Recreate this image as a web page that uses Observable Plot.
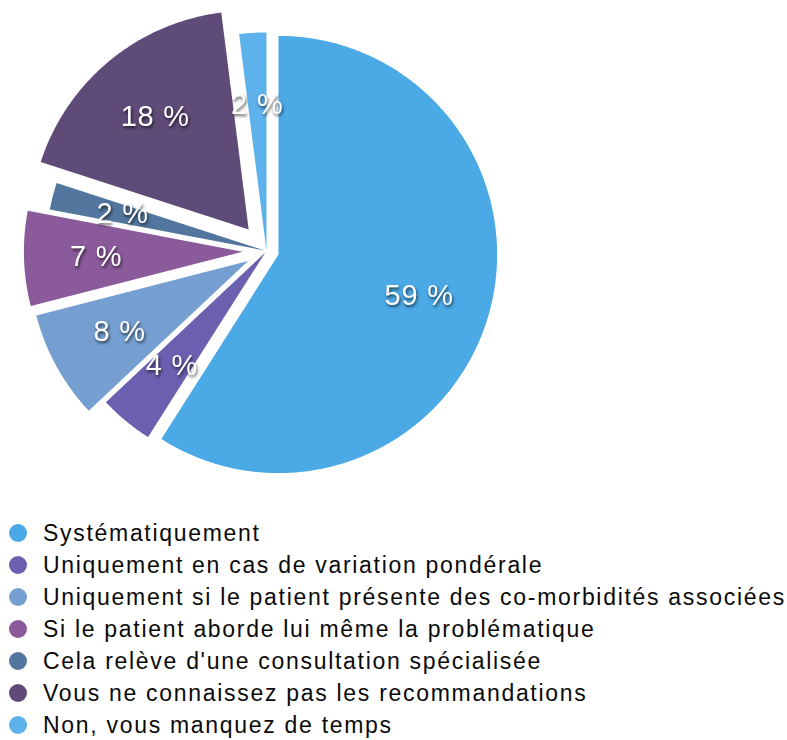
<!DOCTYPE html>
<html>
<head>
<meta charset="utf-8">
<script src="https://cdn.jsdelivr.net/npm/d3@7"></script>
<script src="https://cdn.jsdelivr.net/npm/@observablehq/plot@0.6"></script>
<style>
  html, body { margin: 0; padding: 0; background: #fff; }
  body { width: 787px; font-family: "Liberation Sans", Arial, Helvetica, sans-serif; }
  #chart svg { display: block; }
  #chart svg g[aria-label="text"] { filter: drop-shadow(1px 2px 1.5px rgba(0,0,0,0.65)); letter-spacing: 0.8px; }
  .legend { margin: 0; padding: 0; }
  .row { height: 32px; display: flex; align-items: center; font-size: 23px; letter-spacing: 1.7px; color: #0a0a0a; white-space: nowrap; }
  .dot { width: 18px; height: 18px; border-radius: 50%; margin-left: 8.5px; margin-right: 16.5px; flex: none; }
</style>
</head>
<body>
<div id="chart"></div>
<div id="legend" class="legend"></div>
<script>
const categories = [
  "Systématiquement",
  "Uniquement en cas de variation pondérale",
  "Uniquement si le patient présente des co-morbidités associées",
  "Si le patient aborde lui même la problématique",
  "Cela relève d'une consultation spécialisée",
  "Vous ne connaissez pas les recommandations",
  "Non, vous manquez de temps"
];
const values = [59, 4, 8, 7, 2, 18, 2];
const colors = ["#4BA9E6", "#6B5FAF", "#759FD1", "#8A5A9B", "#52769D", "#5E4B77", "#5EB2EB"];

// layout (pixels)
const W = 787, H = 517;
const cx = 266, cy = 250.5, R = 218.6;
const explodePx = [12.5, 2, 21, 24, 2, 28, 0];
const labelRadius = 0.67;

const arcs = d3.pie().sort(null).value(d => d).startAngle(0).endAngle(2 * Math.PI)(values);

const slicePoints = [];
const labels = [];
arcs.forEach((a, i) => {
  const mid = (a.startAngle + a.endAngle) / 2;
  const o = explodePx[i] / R;
  const ox = o * Math.sin(mid), oy = o * Math.cos(mid);
  const cat = categories[i];
  slicePoints.push({cat, x: ox, y: oy});
  const n = Math.max(2, Math.ceil((a.endAngle - a.startAngle) / (Math.PI / 360)));
  for (let k = 0; k <= n; k++) {
    const t = a.startAngle + (a.endAngle - a.startAngle) * k / n;
    slicePoints.push({cat, x: ox + Math.sin(t), y: oy + Math.cos(t)});
  }
  labels.push({cat, text: values[i] + " %", x: ox + labelRadius * Math.sin(mid), y: oy + labelRadius * Math.cos(mid)});
});

const chart = Plot.plot({
  width: W,
  height: H,
  margin: 0,
  x: {domain: [-cx / R, (W - cx) / R], range: [0, W], axis: null},
  y: {domain: [-(H - cy) / R, cy / R], range: [H, 0], axis: null},
  color: {domain: categories, range: colors},
  style: {fontFamily: "'Liberation Sans', Arial, Helvetica, sans-serif", background: "#fff"},
  marks: [
    Plot.line(slicePoints, {x: "x", y: "y", z: "cat", fill: "cat", stroke: "none", curve: "linear-closed"}),
    Plot.text(labels, {x: "x", y: "y", text: "text", fill: "white", fontSize: 29, textAnchor: "middle"})
  ]
});
document.getElementById("chart").appendChild(chart);

const legend = document.getElementById("legend");
categories.forEach((c, i) => {
  const row = document.createElement("div");
  row.className = "row";
  const dot = document.createElement("span");
  dot.className = "dot";
  dot.style.background = colors[i];
  const label = document.createElement("span");
  label.textContent = c;
  row.appendChild(dot);
  row.appendChild(label);
  legend.appendChild(row);
});
</script>
</body>
</html>
